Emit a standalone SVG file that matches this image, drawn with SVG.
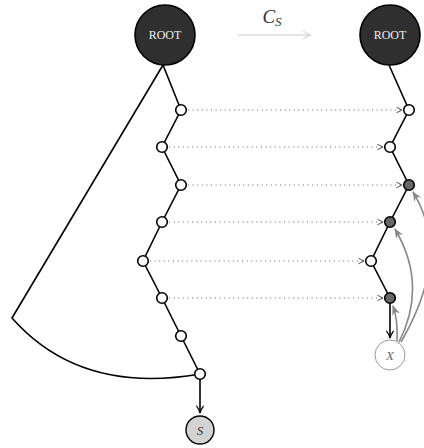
<svg xmlns="http://www.w3.org/2000/svg" width="424" height="448" viewBox="0 0 424 448">
<style>
.root{fill:#2f2f2f;stroke:#000;stroke-width:1.6}
.rt{fill:#eee;font-family:"Liberation Serif",serif;font-size:12px;text-anchor:middle}
.n{fill:#fff;stroke:#000;stroke-width:1.6}
.d{fill:#666;stroke:#000;stroke-width:1.6}
.e{fill:none;stroke:#000;stroke-width:1.6}
.dot{fill:none;stroke:#666;stroke-width:1;stroke-dasharray:1 3.6}
.g{fill:none;stroke:#888;stroke-width:1.6}
</style>
<defs>
<marker id="ch" viewBox="0 0 10 10" refX="9" refY="5" markerWidth="7" markerHeight="7" orient="auto" markerUnits="userSpaceOnUse">
<path d="M1,1 L9,5 L1,9" fill="none" stroke="#333" stroke-width="1.2"/>
</marker>
<marker id="ab" viewBox="0 0 10 10" refX="9" refY="5" markerWidth="9" markerHeight="9" orient="auto" markerUnits="userSpaceOnUse">
<path d="M1,1 Q5,4 9,5 Q5,6 1,9" fill="none" stroke="#000" stroke-width="1.4"/>
</marker>
<marker id="ag" viewBox="0 0 10 10" refX="9" refY="5" markerWidth="10" markerHeight="10" orient="auto" markerUnits="userSpaceOnUse">
<path d="M0,1 L10,5 L0,9 L3,5 Z" fill="#888"/>
</marker>
<marker id="al" viewBox="0 0 10 10" refX="9" refY="5" markerWidth="10" markerHeight="10" orient="auto" markerUnits="userSpaceOnUse">
<path d="M1,1 Q5,4 9,5 Q5,6 1,9" fill="none" stroke="#ddd" stroke-width="1.4"/>
</marker>
</defs>
<g id="connectors">
<path class="e" d="M163,65 L181,110 L162,147 L181,185 L162,222 L143,261 L162,298 L181,336 L200,374"/>
<path class="e" d="M163,65 L12,318 Q80,395 200,374"/>
<line class="e" x1="200" y1="374" x2="200" y2="413" marker-end="url(#ab)"/>
<path class="e" d="M389,65 L409,110 L390,147 L409,185 L390,222 L371,261 L390,298"/>
<line class="e" x1="390" y1="298" x2="390" y2="338" marker-end="url(#ab)"/>
<line class="dot" x1="188" y1="110" x2="402" y2="110" marker-end="url(#ch)"/>
<line class="dot" x1="169" y1="147" x2="383" y2="147" marker-end="url(#ch)"/>
<line class="dot" x1="188" y1="185" x2="402" y2="185" marker-end="url(#ch)"/>
<line class="dot" x1="169" y1="222" x2="383" y2="222" marker-end="url(#ch)"/>
<line class="dot" x1="150" y1="261" x2="364" y2="261" marker-end="url(#ch)"/>
<line class="dot" x1="169" y1="298" x2="383" y2="298" marker-end="url(#ch)"/>
<path class="g" d="M397,341 Q398,320 393,306" marker-end="url(#ag)"/>
<path class="g" d="M399,342 Q428,285 395,229" marker-end="url(#ag)"/>
<path class="g" d="M401,342 Q452,255 413,192" marker-end="url(#ag)"/>
<line x1="238" y1="35" x2="311" y2="35" stroke="#ddd" stroke-width="1.4" marker-end="url(#al)"/>
</g>
<text x="272" y="23" font-family="Liberation Serif,serif" font-size="19" font-style="italic" text-anchor="middle" fill="#333">C<tspan font-size="13" dy="3">S</tspan></text>
<g id="rootL"><circle class="root" cx="165" cy="35" r="30"/><text class="rt" x="165" y="39">ROOT</text></g>
<g id="rootR"><circle class="root" cx="390" cy="35" r="30"/><text class="rt" x="390" y="39">ROOT</text></g>
<g id="l1"><circle class="n" cx="181" cy="110" r="5.3"/></g>
<g id="l2"><circle class="n" cx="162" cy="147" r="5.3"/></g>
<g id="l3"><circle class="n" cx="181" cy="185" r="5.3"/></g>
<g id="l4"><circle class="n" cx="162" cy="222" r="5.3"/></g>
<g id="l5"><circle class="n" cx="143" cy="261" r="5.3"/></g>
<g id="l6"><circle class="n" cx="162" cy="298" r="5.3"/></g>
<g id="l7"><circle class="n" cx="181" cy="336" r="5.3"/></g>
<g id="l8"><circle class="n" cx="200" cy="374" r="5.3"/></g>
<g id="S"><circle cx="200" cy="430" r="14" fill="#d3d3d3" stroke="#000" stroke-width="1.4"/><text x="200" y="435" font-family="Liberation Serif,serif" font-size="13" font-style="italic" text-anchor="middle" fill="#333">S</text></g>
<g id="r1"><circle class="n" cx="409" cy="110" r="5.3"/></g>
<g id="r2"><circle class="n" cx="390" cy="147" r="5.3"/></g>
<g id="r3"><circle class="d" cx="409" cy="185" r="5.3"/></g>
<g id="r4"><circle class="d" cx="390" cy="222" r="5.3"/></g>
<g id="r5"><circle class="n" cx="371" cy="261" r="5.3"/></g>
<g id="r6"><circle class="d" cx="390" cy="298" r="5.3"/></g>
<g id="X"><circle cx="390" cy="355" r="15" fill="#fff" stroke="#999" stroke-width="1"/><text x="390" y="360" font-family="Liberation Serif,serif" font-size="13" font-style="italic" text-anchor="middle" fill="#666">X</text></g>
</svg>
